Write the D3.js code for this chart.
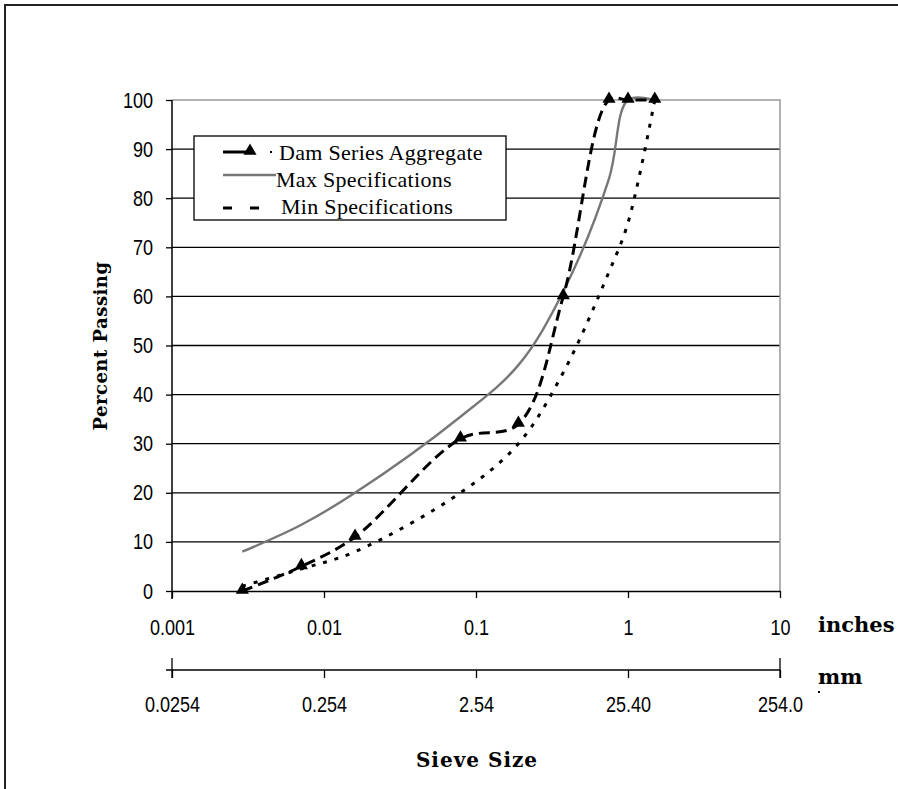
<!doctype html>
<html>
<head>
<script src="https://d3js.org/d3.v7.min.js"></script>
<style>
  body { margin: 0; background: #fff; }
  svg { display: block; }
  .tick-lbl { font-family: "Liberation Sans", Arial, sans-serif; font-size: 22px; fill: #000; }
  .serif { font-family: "Liberation Serif", "Times New Roman", serif; }
  .wide { font-family: "DejaVu Serif", serif; font-weight: bold; }
</style>
</head>
<body>
<svg width="898" height="789"></svg>
<script>
// sieve sizes (inches) and percent passing
var sizesIn   = [0.0029, 0.0071, 0.016, 0.079, 0.19, 0.375, 0.75, 1, 1.5];
var damAgg    = [0, 5, 11, 31, 34, 60, 100, 100, 100];
var maxSpec   = [8, 13.5, 20, 35.5, 46, 61, 84, 100, 100];
var minSpec   = [1, 4.5, 8, 20, 30, 44.5, 65, 75, 100];

var inchTicks  = [0.001, 0.01, 0.1, 1, 10];
var inchLabels = ["0.001", "0.01", "0.1", "1", "10"];
var mmTicks    = [0.0254, 0.254, 2.54, 25.4, 254];
var mmLabels   = ["0.0254", "0.254", "2.54", "25.40", "254.0"];
var yTicks     = d3.range(0, 101, 10);

var squeeze = 0.82;   // narrow look of the tick font

var svg = d3.select("svg");

// outer frame (runs off the right/bottom edge like the original)
svg.append("rect")
   .attr("x", 5).attr("y", 5)
   .attr("width", 1000).attr("height", 1000)
   .attr("fill", "none").attr("stroke", "#222").attr("stroke-width", 2);

var x  = d3.scaleLog().domain([0.001, 10]).range([172, 780]),
    xm = d3.scaleLog().domain([0.0254, 254]).range([172, 780]),
    y  = d3.scaleLinear().domain([0, 100]).range([591, 100]);

// gridlines
svg.append("g").selectAll("line")
   .data(yTicks.filter(function(d) { return d > 0 && d < 100; }))
   .enter().append("line")
   .attr("x1", 172).attr("x2", 780)
   .attr("y1", function(d) { return y(d); }).attr("y2", function(d) { return y(d); })
   .attr("stroke", "#000").attr("stroke-width", 1.3);

// plot area border top / right (grey)
svg.append("path")
   .attr("d", "M172," + y(100) + "H780V" + y(0))
   .attr("fill", "none").attr("stroke", "#999").attr("stroke-width", 1.5);

// y axis
var yAxis = svg.append("g")
   .attr("transform", "translate(172,0)")
   .call(d3.axisLeft(y).tickValues(yTicks).tickSizeInner(6).tickSizeOuter(0));
yAxis.select(".domain").remove();
yAxis.selectAll(".tick line").attr("stroke", "#000").attr("stroke-width", 1.3);
yAxis.selectAll("text").attr("class", "tick-lbl").attr("fill", "#000")
   .attr("x", -19 / squeeze).attr("transform", "scale(" + squeeze + ",1)");
svg.append("line")
   .attr("x1", 172).attr("x2", 172).attr("y1", y(100)).attr("y2", y(0) + 8)
   .attr("stroke", "#000").attr("stroke-width", 1.5);

// inches axis
var xAxis = svg.append("g")
   .attr("transform", "translate(0," + y(0) + ")")
   .call(d3.axisBottom(x).tickValues(inchTicks)
         .tickFormat(function(d, i) { return inchLabels[i]; })
         .tickSizeInner(7).tickSizeOuter(0).tickPadding(21));
xAxis.select(".domain").attr("stroke", "#000").attr("stroke-width", 1.5);
xAxis.selectAll(".tick line").attr("stroke", "#000").attr("stroke-width", 1.3);
xAxis.selectAll("text").attr("class", "tick-lbl").attr("fill", "#000")
   .attr("transform", "scale(" + squeeze + ",1)");

// mm axis
var mmY = 670;
var mAxis = svg.append("g")
   .attr("transform", "translate(0," + mmY + ")")
   .call(d3.axisBottom(xm).tickValues(mmTicks)
         .tickFormat(function(d, i) { return mmLabels[i]; })
         .tickSizeInner(8).tickSizeOuter(0).tickPadding(18));
mAxis.select(".domain").remove();
mAxis.selectAll(".tick line").attr("stroke", "#000").attr("stroke-width", 1.3);
mAxis.selectAll("text").attr("class", "tick-lbl").attr("fill", "#000")
   .attr("transform", "scale(" + squeeze + ",1)");
svg.append("line").attr("x1", 166).attr("x2", 780).attr("y1", mmY).attr("y2", mmY)
   .attr("stroke", "#000").attr("stroke-width", 1.5);
[xm(0.0254), xm(254)].forEach(function(px) {
  svg.append("line").attr("x1", px).attr("x2", px).attr("y1", mmY - 12).attr("y2", mmY + 8)
     .attr("stroke", "#000").attr("stroke-width", 1.3);
});

// unit labels and titles
svg.append("text").attr("class", "wide").attr("x", 818).attr("y", y(0) + 41)
   .attr("font-size", 21).text("inches");
svg.append("text").attr("class", "wide").attr("x", 818).attr("y", mmY + 14)
   .attr("font-size", 21).text("mm");
svg.append("rect").attr("x", 818).attr("y", 691).attr("width", 2).attr("height", 2).attr("fill", "#000");
svg.append("text").attr("class", "wide").attr("x", 477).attr("y", 767)
   .attr("text-anchor", "middle").attr("font-size", 20)
   .attr("letter-spacing", 1).text("Sieve Size");
svg.append("text").attr("class", "wide")
   .attr("transform", "translate(107,346) rotate(-90)")
   .attr("text-anchor", "middle").attr("font-size", 18)
   .attr("letter-spacing", 0.5).text("Percent Passing");

// series
var line = d3.line().curve(d3.curveCatmullRom.alpha(0.5));
function pts(vals) { return sizesIn.map(function(s, i) { return [x(s), y(vals[i])]; }); }

svg.append("path").attr("d", line(pts(maxSpec)))
   .attr("fill", "none").attr("stroke", "#777").attr("stroke-width", 2.4);
svg.append("path").attr("d", line(pts(minSpec)))
   .attr("fill", "none").attr("stroke", "#000").attr("stroke-width", 3)
   .attr("stroke-dasharray", "4,8");
svg.append("path").attr("d", line(pts(damAgg)))
   .attr("fill", "none").attr("stroke", "#000").attr("stroke-width", 3)
   .attr("stroke-dasharray", "11,6");

var tri = d3.symbol().type(d3.symbolTriangle).size(75);
svg.append("g").selectAll("path")
   .data(pts(damAgg)).enter().append("path")
   .attr("d", tri)
   .attr("transform", function(d) { return "translate(" + d[0] + "," + (d[1] - 1) + ")"; })
   .attr("fill", "#000");

// legend
var lg = svg.append("g");
lg.append("rect").attr("x", 194).attr("y", 136).attr("width", 312).attr("height", 84)
  .attr("fill", "#fff").attr("stroke", "#000").attr("stroke-width", 1.3);
lg.append("line").attr("x1", 223).attr("x2", 250).attr("y1", 152).attr("y2", 152)
  .attr("stroke", "#000").attr("stroke-width", 3);
lg.append("path").attr("d", tri).attr("transform", "translate(250,151)").attr("fill", "#000");
lg.append("rect").attr("x", 270).attr("y", 151).attr("width", 2).attr("height", 2).attr("fill", "#000");
lg.append("line").attr("x1", 223).attr("x2", 276).attr("y1", 175).attr("y2", 175)
  .attr("stroke", "#777").attr("stroke-width", 2.4);
lg.append("line").attr("x1", 223).attr("x2", 259).attr("y1", 208).attr("y2", 208)
  .attr("stroke", "#000").attr("stroke-width", 3).attr("stroke-dasharray", "9,18");
var legendNames = ["Dam Series Aggregate", "Max Specifications", "Min Specifications"];
lg.selectAll("text.lg").data(legendNames).enter().append("text")
  .attr("class", "serif lg")
  .attr("x", function(d, i) { return i === 0 ? 279 : (i === 1 ? 276 : 281); })
  .attr("y", function(d, i) { return 160 + i * 27; })
  .attr("font-size", 22).attr("letter-spacing", 0.3)
  .text(function(d) { return d; });
</script>
</body>
</html>
